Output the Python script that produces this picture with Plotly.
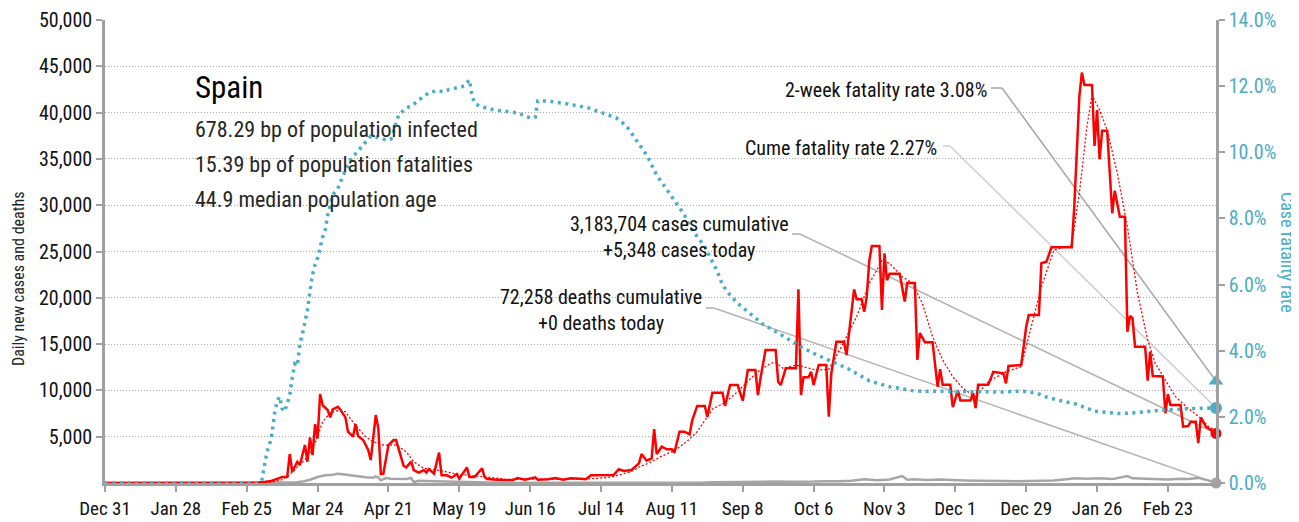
import pandas as pd
import plotly.graph_objects as go

# ---------------- data ----------------
START = "2019-12-31"          # day 0
END_DAY = 439                 # 2021-03-14, last reported day

x_tick_days = [0, 28, 56, 84, 112, 140, 168, 196, 224, 252, 280, 308, 336, 364, 392, 420]
x_tick_labels = ["Dec 31", "Jan 28", "Feb 25", "Mar 24", "Apr 21", "May 19", "Jun 16", "Jul 14",
                 "Aug 11", "Sep 8", "Oct 6", "Nov 3", "Dec 1", "Dec 29", "Jan 26", "Feb 23"]
left_ticks = [5000, 10000, 15000, 20000, 25000, 30000, 35000, 40000, 45000, 50000]
right_ticks = [0, 2, 4, 6, 8, 10, 12, 14]

# daily new cases (days since START, value)
case_days = [0, 58, 63, 66, 68, 70, 72, 73, 74, 76, 77, 79, 80, 81, 82, 83, 84, 85, 86, 88, 89, 90,
             92, 93, 95, 96, 98, 99, 100, 102, 104, 105, 107, 108, 109, 110, 112, 114, 115, 117, 118,
             119, 121, 122, 124, 126, 127, 128, 130, 132, 133, 135, 137, 139, 140, 143, 144, 146, 149,
             150, 151, 155, 158, 161, 163, 166, 170, 171, 175, 178, 181, 184, 188, 190, 192, 197, 201,
             203, 205, 208, 211, 212, 214, 216, 217, 218, 220, 222, 224, 225, 227, 229, 231, 232, 234,
             237, 238, 240, 244, 245, 247, 250, 252, 254, 257, 258, 259, 261, 265, 266, 267, 269, 273,
             274, 275, 276, 278, 279, 280, 282, 285, 286, 287, 289, 292, 293, 296, 297, 299, 300, 301,
             302, 303, 306, 307, 308, 309, 310, 314, 316, 317, 320, 321, 322, 324, 327, 329, 330, 331,
             334, 335, 337, 338, 342, 343, 344, 345, 349, 351, 355, 356, 357, 362, 363, 364, 365, 369,
             370, 372, 374, 382, 383, 385, 386, 387, 390, 391, 392, 393, 394, 396, 398, 399, 401, 403,
             404, 405, 406, 407, 411, 412, 413, 414, 418, 419, 420, 421, 425, 426, 428, 429, 431, 432,
             433, 435, 439]
case_vals = [0, 0, 100, 250, 450, 650, 650, 3130, 1220, 2300, 1950, 4100, 2300, 4930, 3020, 6370, 4820,
             9610, 8420, 7880, 7090, 7960, 8240, 7920, 7090, 5540, 5000, 6370, 5070, 4640, 3560, 2480,
             7340, 5900, 970, 1010, 4100, 4640, 4640, 2840, 1840, 1690, 2300, 1400, 1120, 1400, 1120,
             1510, 1010, 3280, 830, 830, 575, 970, 470, 1690, 650, 650, 1580, 650, 430, 360, 360, 290,
             540, 360, 610, 360, 400, 540, 360, 500, 470, 400, 830, 830, 860, 1500, 1300, 1400, 2120,
             3130, 2410, 2660, 5830, 3130, 3920, 3640, 3640, 3280, 5540, 5540, 5250, 6730, 8320, 8320,
             7160, 9750, 9750, 8320, 10580, 10580, 8890, 12200, 12200, 9500, 11300, 14360, 14360, 10940,
             10580, 12380, 12380, 20920, 9500, 11410, 11410, 12020, 10580, 12740, 12740, 7160, 11850,
             15260, 15260, 13820, 20920, 19840, 19840, 18500, 20120, 24000, 25600, 25600, 18700, 24800,
             21900, 22600, 22600, 19600, 21600, 21600, 13300, 16200, 15200, 15200, 10400, 12300, 10600,
             10600, 8200, 10000, 8900, 8900, 9700, 8100, 10600, 10600, 12000, 11850, 10760, 12640, 12740,
             14720, 16880, 18140, 18140, 23730, 23900, 25450, 25450, 29840, 41720, 44320, 42980, 42980,
             36400, 40280, 34960, 38050, 38050, 29130, 31570, 28760, 28760, 16340, 18040, 17800, 14720,
             14720, 11050, 14180, 11560, 11500, 7530, 9580, 8420, 8420, 6080, 6150, 6620, 6620, 4300,
             7090, 6080, 5348]

# smoothed daily cases (red dotted)
avg_days = [0, 62, 66, 70, 73, 76, 80, 83, 86, 89, 92, 95, 99, 103, 106, 110, 115, 119, 122, 126, 132,
            139, 145, 153, 158, 175, 190, 195, 200, 205, 208, 211, 216, 220, 225, 230, 234, 240, 245,
            250, 254, 258, 263, 265, 268, 273, 278, 281, 286, 291, 297, 302, 305, 307, 310, 315, 319,
            323, 327, 331, 335, 339, 344, 349, 356, 362, 366, 370, 375, 382, 385, 388, 390, 393, 396,
            400, 404, 408, 412, 415, 419, 423, 428, 433, 436, 439]
avg_vals = [0, 0, 100, 350, 900, 1700, 2800, 4300, 6600, 7600, 7800, 7700, 6200, 5000, 4460, 4100, 4100,
            3380, 2300, 1580, 1370, 970, 830, 580, 400, 400, 430, 500, 650, 1000, 1250, 1700, 2300, 2900,
            3500, 4500, 5540, 7960, 8700, 9860, 11000, 12020, 12930, 13000, 12380, 12740, 12380, 12200,
            12270, 14720, 17960, 21570, 23000, 24080, 23720, 22280, 21570, 19400, 15800, 13280, 11480,
            10220, 9320, 10940, 12020, 12560, 16880, 21200, 25160, 25700, 31290, 38480, 41900, 40280,
            38120, 33450, 27680, 20490, 15440, 12930, 11120, 9320, 8060, 6990, 6080, 5700]

# daily deaths (grey)
death_days = [0, 70, 75, 78, 81, 84, 87, 90, 92, 94, 96, 98, 100, 103, 106, 107, 108, 109, 111, 113, 115,
              117, 119, 121, 122, 124, 127, 130, 135, 140, 145, 150, 155, 160, 170, 180, 190, 200, 210,
              220, 230, 235, 240, 245, 250, 255, 260, 265, 270, 275, 280, 285, 290, 295, 300, 305, 310,
              315, 317, 320, 325, 330, 335, 340, 345, 350, 355, 360, 365, 370, 375, 380, 383, 388, 393,
              398, 402, 404, 406, 410, 415, 420, 425, 428, 432, 435, 437, 439]
death_vals = [0, 0, 60, 150, 350, 650, 830, 900, 1000, 950, 850, 750, 720, 620, 570, 720, 600, 290, 540,
              450, 430, 400, 440, 540, 100, 250, 200, 180, 150, 120, 80, 40, 20, 10, 15, 10, 10, 5, 15,
              30, 60, 20, 80, 100, 80, 150, 120, 160, 130, 180, 150, 200, 180, 250, 400, 300, 380, 756,
              350, 400, 330, 380, 300, 280, 250, 200, 220, 180, 200, 300, 280, 400, 500, 450, 500, 420,
              600, 750, 500, 450, 420, 380, 450, 420, 550, 350, 200, 0]

# cumulative case fatality rate, % (teal dotted, right axis)
cfr_days = [0, 61, 62, 63, 64, 65, 66, 67, 68, 69, 70, 71, 72, 73, 74, 75, 76, 77, 78, 79, 80, 81, 82,
            83, 84, 86, 87, 88, 89, 90, 92, 93, 95, 97, 100, 102, 105, 108, 111, 113, 114, 116, 119, 122,
            124, 126, 128, 131, 134, 136, 139, 142, 144, 145, 146, 148, 151, 154, 163, 168, 170, 171,
            175, 183, 191, 197, 202, 206, 210, 214, 218, 222, 225, 229, 231, 234, 237, 239, 242, 244,
            247, 250, 252, 256, 260, 265, 271, 275, 280, 286, 294, 302, 310, 320, 332, 344, 355, 362,
            368, 372, 377, 384, 391, 400, 405, 417, 430, 439]
cfr_vals = [0, 0, 0.1, 0.5, 0.95, 1.15, 1.5, 2.1, 2.46, 2.61, 2.25, 2.16, 2.45, 2.65, 3.2, 3.6, 3.54,
            4.2, 4.5, 4.9, 5.23, 5.8, 6.3, 6.6, 6.8, 7.43, 7.65, 8.1, 8.36, 8.71, 8.91, 9.1, 9.46, 9.77,
            10.02, 10.22, 10.49, 10.45, 10.37, 10.4, 10.62, 11.13, 11.33, 11.45, 11.58, 11.7, 11.8,
            11.86, 11.83, 11.9, 11.96, 12.0, 12.19, 11.73, 11.48, 11.4, 11.33, 11.28, 11.19, 11.04,
            11.06, 11.55, 11.55, 11.46, 11.34, 11.19, 11.04, 10.8, 10.37, 9.92, 9.31, 8.86, 8.56, 8.1,
            7.75, 7.45, 7.15, 6.84, 6.39, 5.99, 5.68, 5.43, 5.3, 5.05, 4.8, 4.58, 4.3, 4.12, 3.92, 3.72,
            3.44, 3.09, 2.91, 2.78, 2.76, 2.76, 2.75, 2.78, 2.72, 2.6, 2.5, 2.38, 2.17, 2.1, 2.11, 2.2,
            2.25, 2.27]

country = "Spain"
bp_infected = 678.29
bp_fatalities = 15.39
median_age = 44.9
cases_cumulative = 3183704
cases_today = 5348
deaths_cumulative = 72258
deaths_today = 0
two_week_rate = 3.08
cume_rate = 2.27

# ---------------- styling / layout constants ----------------
FONT = "Roboto Condensed, DejaVu Sans Condensed, Liberation Sans Narrow, Liberation Sans, sans-serif"
RED = "#ff0000"
TEAL = "#4bacc6"
GREY = "#a6a6a6"
AXIS = "#a0a0a0"
PAGE_W, PAGE_H = 1299, 522
OFF = 8                       # default body margin of the html page
W, H = PAGE_W - OFF, PAGE_H - OFF
PL, PR, PT, PB = 105, 1216, 20, 483   # plot area in page pixels
YMAX, Y2MAX = 50000, 14

start = pd.Timestamp(START)


def to_dates(days):
    return [start + pd.Timedelta(days=d) for d in days]


def px_to_date(px):
    return start + pd.Timedelta(days=(px - PL) / (PR - PL) * END_DAY)


def py_to_y(py, top):
    return (PB - py) / (PB - PT) * top


def px_paper(px):
    return (px - PL) / (PR - PL)


def py_paper(py):
    return (PB - py) / (PB - PT)


last_date = start + pd.Timedelta(days=END_DAY)

fig = go.Figure()
fig.add_trace(go.Scatter(x=to_dates(death_days), y=death_vals, mode="lines",
                         line=dict(color=GREY, width=2.5), hoverinfo="skip"))
fig.add_trace(go.Scatter(x=to_dates(avg_days), y=avg_vals, mode="lines",
                         line=dict(color=RED, width=1.3, dash="2px,2px"), hoverinfo="skip"))
fig.add_trace(go.Scatter(x=to_dates(case_days), y=case_vals, mode="lines",
                         line=dict(color=RED, width=2.5), hoverinfo="skip"))
fig.add_trace(go.Scatter(x=to_dates(cfr_days), y=cfr_vals, mode="lines", yaxis="y2",
                         line=dict(color=TEAL, width=3.5, dash="3px,4.5px"), hoverinfo="skip"))

# end markers
end_markers = [
    (two_week_rate, "y2", "triangle-up", TEAL, 13),
    (cume_rate, "y2", "circle", TEAL, 12),
    (cases_today, "y", "circle", RED, 11),
    (deaths_today, "y", "circle", GREY, 11),
]
for val, ax, sym, col, size in end_markers:
    fig.add_trace(go.Scatter(x=[last_date], y=[val], yaxis=ax, mode="markers", cliponaxis=False,
                             marker=dict(symbol=sym, color=col, size=size), hoverinfo="skip"))

# leader lines: (stub start px, stub end px, py, target y, axis, colour)
leaders = [
    (991, 1002, 88, two_week_rate, "y2", "#a9a9a9"),
    (943, 950, 146, cume_rate, "y2", "#d0d0d0"),
    (792, 800, 234, cases_today, "y", "#b4b4b4"),
    (706, 714, 308, deaths_today, "y", "#b4b4b4"),
]
shapes = []
for x0, x1, py, target, ax, col in leaders:
    top = Y2MAX if ax == "y2" else YMAX
    yv = py_to_y(py, top)
    shapes.append(dict(type="line", xref="x", yref=ax, x0=px_to_date(x0), x1=px_to_date(x1),
                       y0=yv, y1=yv, line=dict(color=col, width=1.6), layer="below"))
    shapes.append(dict(type="line", xref="x", yref=ax, x0=px_to_date(x1), x1=last_date,
                       y0=yv, y1=target, line=dict(color=col, width=1.6), layer="below"))


def ann(text, px, py, size, color="#111111", xanchor="left", angle=0):
    return dict(text=text, xref="paper", yref="paper", x=px_paper(px), y=py_paper(py),
                xanchor=xanchor, yanchor="middle", showarrow=False, textangle=angle,
                font=dict(family=FONT, size=size, color=color))


annotations = [
    ann(country, 193, 88, 31, "#000000"),
    ann(f"{bp_infected:.2f} bp of population infected", 193, 129, 22, "#262626"),
    ann(f"{bp_fatalities:.2f} bp of population fatalities", 193, 164, 22, "#262626"),
    ann(f"{median_age} median population age", 193, 199, 22, "#262626"),
    ann(f"2-week fatality rate {two_week_rate:.2f}%", 989, 90, 20, xanchor="right"),
    ann(f"Cume fatality rate {cume_rate:.2f}%", 939, 148, 20, xanchor="right"),
    ann(f"{cases_cumulative:,} cases cumulative", 679, 224, 20, xanchor="center"),
    ann(f"+{cases_today:,} cases today", 679, 250, 20, xanchor="center"),
    ann(f"{deaths_cumulative:,} deaths cumulative", 601, 297, 20, xanchor="center"),
    ann(f"+{deaths_today:,} deaths today", 601, 323, 20, xanchor="center"),
    ann("Daily new cases and deaths", 18, 279, 16, "#222222", xanchor="center", angle=-90),
    ann("Case fatality rate", 1288, 252, 18, TEAL, xanchor="center", angle=90),
]

fig.update_layout(
    width=W, height=H,
    margin=dict(l=PL - OFF, r=PAGE_W - PR, t=PT - OFF, b=PAGE_H - PB, pad=0),
    paper_bgcolor="white", plot_bgcolor="white",
    showlegend=False,
    font=dict(family=FONT, size=20, color="#222222"),
    xaxis=dict(type="date", range=[start, last_date], tickvals=to_dates(x_tick_days),
               ticktext=x_tick_labels, showgrid=False, zeroline=False, showline=True,
               linecolor=AXIS, linewidth=2.5, ticks="outside", ticklen=6, tickwidth=2,
               tickcolor=AXIS, tickfont=dict(family=FONT, size=19, color="#111111"),
               automargin=False),
    yaxis=dict(range=[0, YMAX], tickvals=left_ticks, tickformat=",", showgrid=True,
               gridcolor="#a8a8a8", gridwidth=1, griddash="1px,2px", zeroline=False,
               showline=True, linecolor=AXIS, linewidth=2.5, ticks="outside", ticklen=6,
               tickwidth=2, tickcolor=AXIS, tickfont=dict(family=FONT, size=20, color="#111111"),
               automargin=False),
    yaxis2=dict(range=[0, Y2MAX], overlaying="y", side="right", tickvals=right_ticks,
                ticktext=[f"{v:.1f}%" for v in right_ticks], showgrid=False, zeroline=False,
                showline=True, linecolor=AXIS, linewidth=2.5, ticks="outside", ticklen=6,
                tickwidth=2, tickcolor=AXIS, tickfont=dict(family=FONT, size=20, color=TEAL),
                automargin=False),
    shapes=shapes,
    annotations=annotations,
)

fig.write_html("out.html")
